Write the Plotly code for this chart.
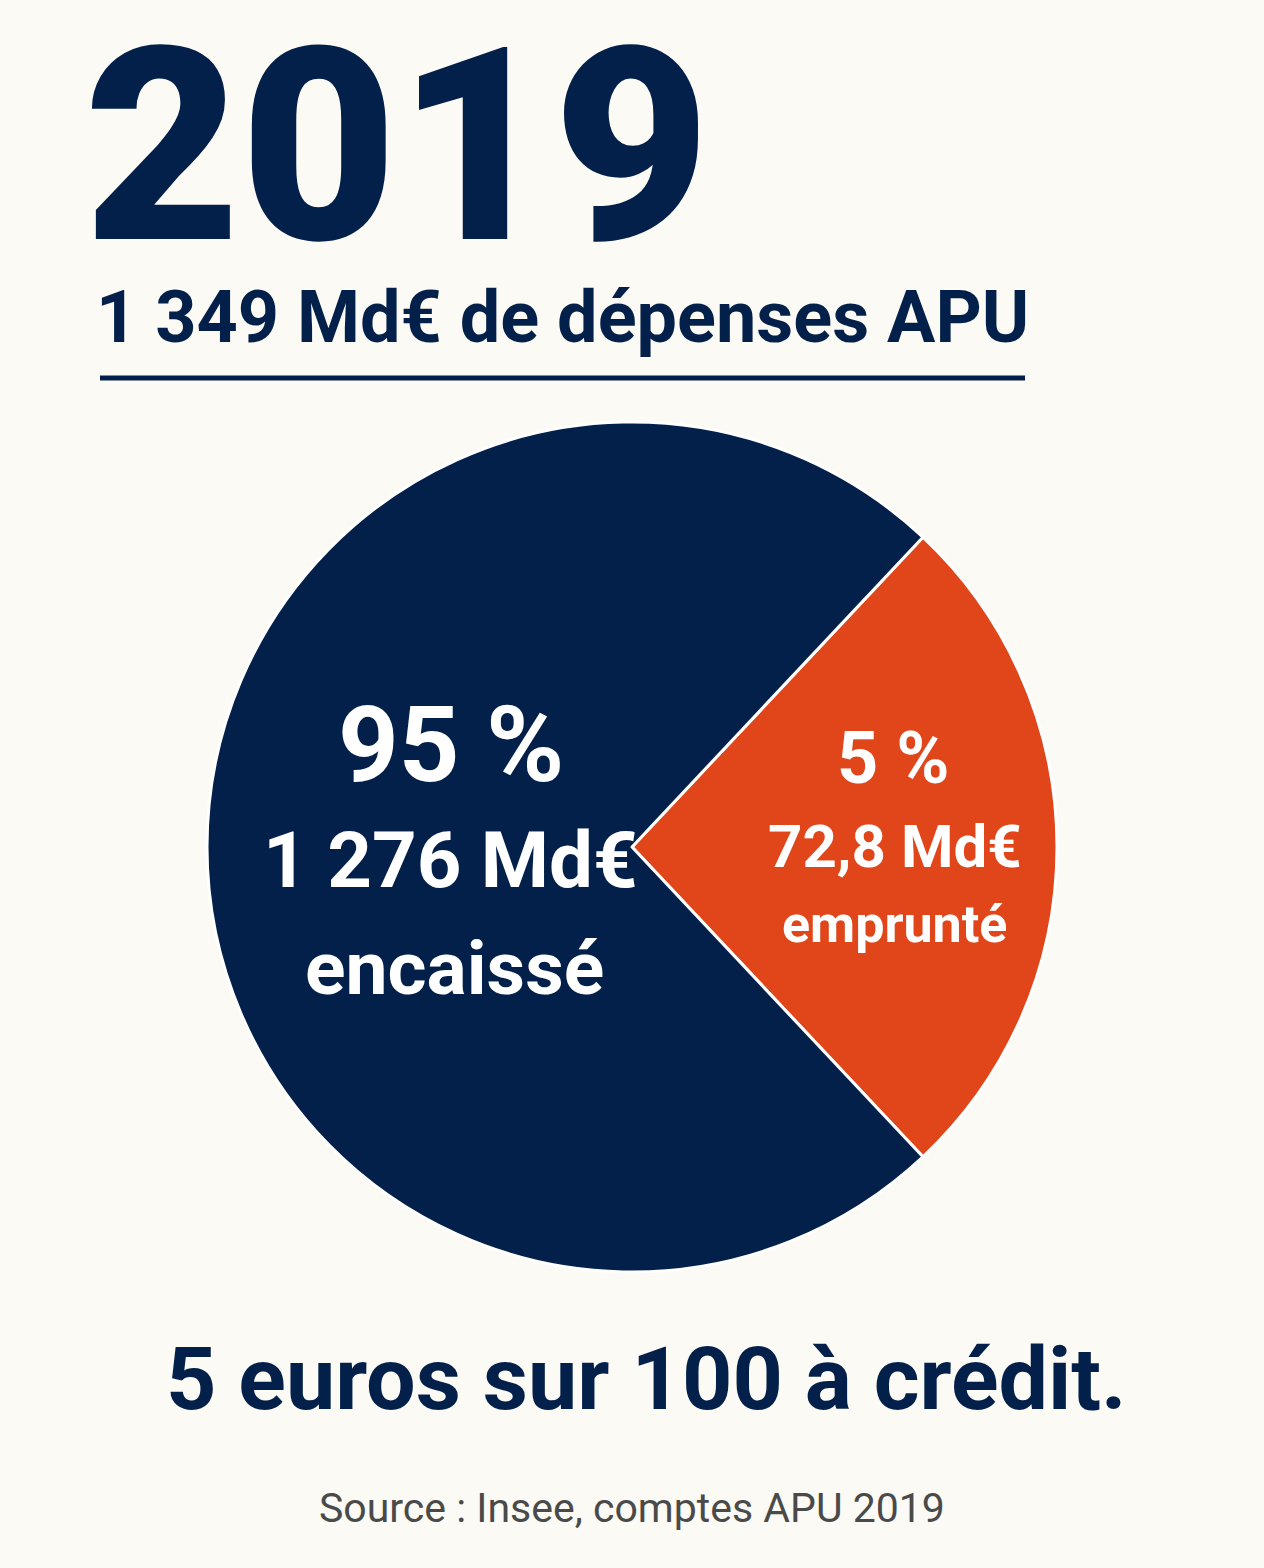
import plotly.graph_objects as go

# Data
year = "2019"
total_label = "1 349 Md€ de dépenses APU"
slice_names = ["emprunté", "encaissé"]
slice_drawn_share = [26.0, 74.0]
pct_labels = ["5 %", "95 %"]
amount_labels = ["72,8 Md€", "1 276 Md€"]
headline = "5 euros sur 100 à crédit."
source = "Source : Insee, comptes APU 2019"

navy = "#03204a"
orange = "#e0461a"
bg = "#fcfaf4"
W, H = 1264, 1568

# Pie geometry in pixels (center and radius from the picture)
cx, cy, r = 632, 847, 425


def px(x):
    return x / W


def py(y):
    return 1 - y / H


fig = go.Figure(go.Pie(
    labels=slice_names,
    values=slice_drawn_share,
    sort=False,
    direction="clockwise",
    rotation=90 - slice_drawn_share[0] / 100 * 360 / 2,
    marker=dict(colors=[orange, navy], line=dict(color="white", width=3)),
    textinfo="none",
    hoverinfo="label",
    showlegend=False,
    domain=dict(x=[px(cx - r), px(cx + r)], y=[py(cy + r), py(cy - r)]),
))

annots = []


def txt(text, x, y, size, color, weight="bold", xanchor="center"):
    annots.append(dict(
        text=text, x=px(x), y=py(y), xref="paper", yref="paper",
        xanchor=xanchor, yanchor="middle", showarrow=False,
        font=dict(family="Roboto", size=size, color=color, weight=weight),
    ))


# header
txt(year, 82, 147, 270, navy, weight=900, xanchor="left")
txt(total_label, 94, 317, 72, navy, xanchor="left")

# labels inside the slices
txt(pct_labels[1], 451, 745, 106, "white")
txt(amount_labels[1], 450, 860, 78, "white")
txt(slice_names[1], 455, 968, 75, "white")

txt(pct_labels[0], 893, 758, 72, "white")
txt(amount_labels[0], 895, 846, 60, "white")
txt(slice_names[0], 894, 924, 52, "white")

# footer
txt(headline, 647, 1378, 88, navy)
txt(source, 632, 1508, 41, "#4a4a4a", weight="normal")

fig.update_layout(
    width=W, height=H,
    margin=dict(l=0, r=0, t=0, b=0),
    paper_bgcolor=bg, plot_bgcolor=bg,
    annotations=annots,
    shapes=[dict(type="line", xref="paper", yref="paper",
                 x0=px(100), x1=px(1025), y0=py(378), y1=py(378),
                 line=dict(color=navy, width=5))],
)

fig.write_html(
    "out.html",
    config={"displayModeBar": False},
    post_script=f"document.body.style.margin='0';document.body.style.background='{bg}';",
)
